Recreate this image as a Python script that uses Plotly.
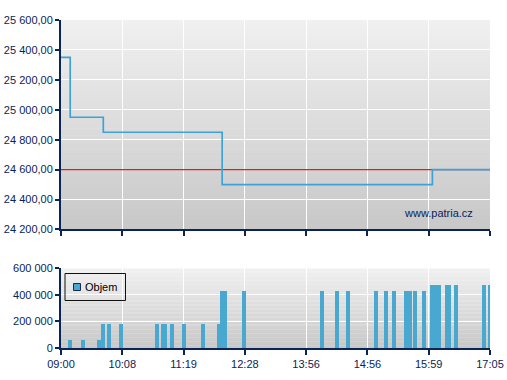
import plotly.graph_objects as go
from plotly.subplots import make_subplots

# ---------------- data ----------------
tick_labels = ["09:00", "10:08", "11:19", "12:28", "13:56", "14:56", "15:59", "17:05"]
tick_pos = [0, 1, 2, 3, 4, 5, 6, 7]

# price step line (x in tick-slot units)
price_x = [0.0, 0.15, 0.69, 2.63, 6.06, 7.0]
price_y = [25350, 24950, 24850, 24500, 24600, 24600]
prev_close = 24600

# volume bars
vol_name = "Objem"
vol_x = [0.147, 0.359, 0.620, 0.685, 0.788, 0.98, 1.566, 1.664, 1.697, 1.811,
         2.0, 2.317, 2.578, 2.627, 2.676, 2.99, 4.259, 4.504, 4.683, 5.140,
         5.303, 5.434, 5.630, 5.695, 5.776, 5.931, 6.054, 6.111, 6.168, 6.298,
         6.331, 6.445, 6.910, 7.0]
vol_y = [55000, 55000, 55000, 175000, 175000, 175000, 175000, 175000, 175000, 175000,
         175000, 175000, 175000, 425000, 425000, 425000, 425000, 425000, 425000, 425000,
         425000, 425000, 425000, 425000, 425000, 425000, 470000, 470000, 470000, 470000,
         470000, 470000, 470000, 470000]

# ---------------- styles ----------------
NAVY = "#0a2456"
LINE_BLUE = "#3ca3d8"
BAR_BLUE = "#48a8d0"
RED = "#f01818"
FONT = "Liberation Sans, Arial, sans-serif"

fig = make_subplots(rows=2, cols=1)

fig.add_trace(go.Scatter(x=[tick_pos[0], tick_pos[-1]], y=[prev_close, prev_close],
                         mode="lines", line=dict(color=RED, width=1.4),
                         showlegend=False, hoverinfo="skip"), row=1, col=1)
fig.add_trace(go.Scatter(x=price_x, y=price_y, mode="lines", line_shape="hv",
                         line=dict(color=LINE_BLUE, width=1.7),
                         showlegend=False), row=1, col=1)
fig.add_trace(go.Bar(x=vol_x, y=vol_y, width=0.065, marker=dict(color=BAR_BLUE, line=dict(width=0)),
                     showlegend=False, name=vol_name), row=2, col=1)

# gradient backgrounds
N = 60
top_c = (240, 240, 240)
bot_c = (200, 200, 200)
shapes = []
for xr, yr in (("x domain", "y domain"), ("x2 domain", "y2 domain")):
    for i in range(N):
        t = i / (N - 1)
        c = tuple(round(top_c[k] + (bot_c[k] - top_c[k]) * t) for k in range(3))
        y1 = 1 - i / N
        y0 = 1 - (i + 1) / N - 0.003
        shapes.append(dict(type="rect", xref=xr, yref=yr, x0=0, x1=1, y0=max(y0, 0), y1=y1,
                           fillcolor="rgb(%d,%d,%d)" % c, line=dict(width=0), layer="below"))

# hand-drawn legend box (paper pixels -> fractions)
W, H = 507, 380
ML, MR, MT, MB = 61, 17, 20, 32
PW, PH = W - ML - MR, H - MT - MB
def px(x): return (x - ML) / PW
def py(y): return (H - MB - y) / PH

shapes.append(dict(type="rect", xref="paper", yref="paper", x0=px(65), x1=px(125.5),
                   y0=py(300.5), y1=py(273.5), line=dict(color="#111111", width=1),
                   fillcolor="rgba(0,0,0,0)"))
shapes.append(dict(type="rect", xref="paper", yref="paper", x0=px(73.5), x1=px(80.5),
                   y0=py(290.5), y1=py(283.5), line=dict(color="#1a2a4a", width=1),
                   fillcolor=BAR_BLUE))

axis_common = dict(showline=True, linecolor=NAVY, linewidth=2, ticks="outside",
                   tickcolor=NAVY, tickwidth=2, showgrid=True, gridcolor="white", gridwidth=1,
                   zeroline=False, automargin=False,
                   tickfont=dict(family=FONT, size=11, color=NAVY))

fig.update_layout(
    width=W, height=H,
    margin=dict(l=ML, r=MR, t=MT, b=MB, autoexpand=False),
    paper_bgcolor="white", plot_bgcolor="rgba(0,0,0,0)",
    separators=", ",
    shapes=shapes,
    showlegend=False,
    xaxis=dict(domain=[0, 1], range=[0, 7], tickvals=tick_pos, showticklabels=False,
               ticklen=5, anchor="y", **axis_common),
    yaxis=dict(domain=[0.3613, 1], range=[24200, 25600], dtick=200, tick0=24200,
               tickformat=",.2f", ticklen=4, anchor="x", **axis_common),
    xaxis2=dict(domain=[0, 1], range=[0, 7], tickvals=tick_pos, ticktext=tick_labels,
                ticklen=5, anchor="y2", **axis_common),
    yaxis2=dict(domain=[0, 0.2424], range=[0, 600000], dtick=200000, tick0=0,
                tickformat=",d", ticklen=4, anchor="x2", **axis_common),
    annotations=[
        dict(text="www.patria.cz", xref="paper", yref="paper", x=px(438), y=py(213),
             xanchor="center", yanchor="middle", showarrow=False,
             font=dict(family=FONT, size=11, color=NAVY)),
        dict(text=vol_name, xref="paper", yref="paper", x=px(83), y=py(287),
             xanchor="left", yanchor="middle", showarrow=False,
             font=dict(family=FONT, size=11, color="#000000")),
    ],
    bargap=0,
)

fig.write_html("out.html")
